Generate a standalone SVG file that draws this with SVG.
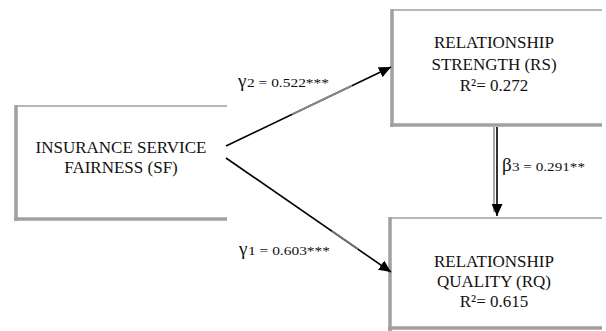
<svg xmlns="http://www.w3.org/2000/svg" width="606" height="331" viewBox="0 0 606 331">
<style>
.box-top{stroke:#b8b8b8;stroke-width:2;fill:none}
.box-side{stroke:#a0a0a0;stroke-width:3.5;fill:none}
.box-bot{stroke:#a0a0a0;stroke-width:3.5;fill:none}
.t{font-family:"Liberation Serif","Times New Roman",serif;font-size:17px;fill:#111;text-anchor:middle}
.lbl{font-family:"Liberation Serif","Times New Roman",serif;font-size:12.5px;fill:#111}
.gr{font-family:"Liberation Serif","Times New Roman",serif;font-size:19px;fill:#111}
.conn{stroke:#000;stroke-width:1.6;fill:none;marker-end:url(#arr)}
</style>
<defs>
<marker id="arr" markerUnits="userSpaceOnUse" markerWidth="13" markerHeight="11" refX="12" refY="5.5" orient="auto">
<path d="M0,0 L12,5.5 L0,11 z" fill="#000"/>
</marker>
</defs>
<rect width="606" height="331" fill="#fff"/>
<g id="sf">
<line class="box-top" x1="15" y1="106" x2="227" y2="106"/>
<line class="box-side" x1="16" y1="105" x2="16" y2="221"/>
<line class="box-bot" x1="14" y1="219" x2="227" y2="219"/>
<text class="t" x="121" y="153">INSURANCE SERVICE</text>
<text class="t" x="121" y="173">FAIRNESS (SF)</text>
</g>
<g id="rs">
<line class="box-top" x1="392" y1="10" x2="602" y2="10"/>
<line class="box-side" x1="392" y1="9" x2="392" y2="127"/>
<line class="box-bot" x1="390" y1="125" x2="602" y2="125"/>
<text class="t" x="494" y="48">RELATIONSHIP</text>
<text class="t" x="494" y="70">STRENGTH (RS)</text>
<text class="t" x="494" y="91">R²= 0.272</text>
</g>
<g id="rq">
<line class="box-top" x1="391" y1="218" x2="602" y2="218"/>
<line class="box-side" x1="390" y1="217" x2="390" y2="331"/>
<line class="box-bot" x1="388" y1="328" x2="602" y2="328"/>
<text class="t" x="494" y="267">RELATIONSHIP</text>
<text class="t" x="494" y="287">QUALITY (RQ)</text>
<text class="t" x="494" y="307">R²= 0.615</text>
</g>
<g id="connectors">
<line class="conn" x1="226" y1="146" x2="391" y2="67"/>
<line x1="292" y1="114.4" x2="352" y2="85.7" stroke="#888" stroke-width="2"/>
<line class="conn" x1="226" y1="158" x2="391" y2="272"/>
<line x1="332" y1="231" x2="358" y2="249" stroke="#777" stroke-width="1.8"/>
<line x1="494" y1="127" x2="494" y2="212" stroke="#aaa" stroke-width="2"/>
<line class="conn" x1="497" y1="127" x2="497" y2="216"/>
<text class="gr" x="238" y="87">γ</text>
<text class="lbl" x="247" y="87" textLength="82" lengthAdjust="spacingAndGlyphs">2 = 0.522***</text>
<text class="gr" x="239" y="255">γ</text>
<text class="lbl" x="248" y="255" textLength="82" lengthAdjust="spacingAndGlyphs">1 = 0.603***</text>
<text class="gr" x="502" y="171">β</text>
<text class="lbl" x="512" y="171" textLength="73" lengthAdjust="spacingAndGlyphs">3 = 0.291**</text>
</g>
</svg>
